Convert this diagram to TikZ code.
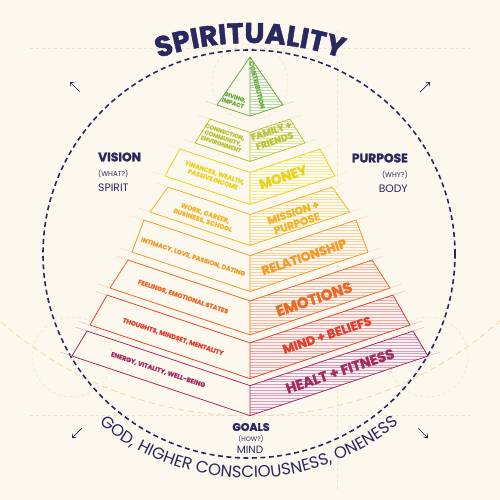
\documentclass[tikz,border=0pt]{standalone}
\usepackage{fontspec}
\setmainfont{Poppins}
\newfontfamily\heavyfont{Poppins}[BoldFeatures={FakeBold=1.6}]
\newfontfamily\labfont{Poppins}[BoldFeatures={FakeBold=0.8}]
\usetikzlibrary{calc,decorations.text,arrows.meta}
\definecolor{bg}{HTML}{FDF8EE}
\definecolor{navy}{HTML}{2A2860}
\definecolor{guide}{HTML}{EEE2C8}
\definecolor{warm}{HTML}{F2D49C}
\definecolor{cgreen}{HTML}{6FAD45}
\definecolor{cfam}{HTML}{B9C43A}
\definecolor{cmoney}{HTML}{EAD21E}
\definecolor{cmission}{HTML}{F0B52B}
\definecolor{crel}{HTML}{F29A2B}
\definecolor{cemo}{HTML}{EB6827}
\definecolor{cmind}{HTML}{E2402F}
\definecolor{chealth}{HTML}{A32C5E}
\newcommand\pyrband[5]{%
  \pgfmathsetmacro\pbct{#3+0.335*#2}%
  \pgfmathsetmacro\pbcb{#5+0.335*#4}%
  \coordinate (LT) at ({250-#2},-#3);
  \coordinate (RT) at ({250+#2},-#3);
  \coordinate (CT) at (250,-\pbct);
  \coordinate (LB) at ({250-#4},-#5);
  \coordinate (RB) at ({250+#4},-#5);
  \coordinate (CB) at (250,-\pbcb);
  \fill[#1!7] (CT)--(RT)--(RB)--(CB)--cycle;
  \begin{scope}
    \clip (CT)--(RT)--(RB)--(CB)--cycle;
    \foreach \hy in {40,42.8,...,430} \draw[#1!45, line width=0.4pt] (245,-\hy)--(440,-\hy);
  \end{scope}
  \draw[#1, line width=0.8pt, line join=round] (LT)--(CT)--(RT)--(RB)--(CB)--(LB)--cycle (CT)--(CB);
  \draw[#1!35, line width=0.6pt] (LB)--($(LB)!-12pt!(CB)$) (RB)--($(RB)!-12pt!(CB)$);
  \ifdim #2pt>0pt \draw[#1!35, line width=0.6pt] (LT)--($(LT)!-12pt!(CT)$) (RT)--($(RT)!-12pt!(CT)$);\fi
}
\tikzset{
  guideline/.style={draw=guide, line width=0.5pt, dash pattern=on 3pt off 3pt},
  warmline/.style={draw=warm, line width=0.7pt, dash pattern=on 6pt off 4pt},
  lab/.style={inner sep=0pt, align=center, rotate=-18.5},
  biglab/.style={inner sep=0pt, align=center, rotate=18.5},
  side/.style={inner sep=0pt, text=navy},
  arr/.style={navy, line width=0.7pt, -{Straight Barb[length=3pt,width=5pt]}}
}
\begin{document}
\begin{tikzpicture}[x=1pt,y=1pt]
\fill[bg] (0,0) rectangle (500,-500);
\useasboundingbox (0,0) rectangle (500,-500);
% faint guides
\draw[guideline] (30,-48) -- (470,-48);
\draw[guideline] (30,-415) -- (470,-415);
\draw[guideline] (337,-30) -- (337,-490);
\draw[guideline] (250,-82) circle (38);
\draw[guideline] (72,-357) circle (40);
\draw[guideline] (428,-357) circle (40);
\draw[warmline] (250,-40) circle (376);
% navy dashed circle
\draw[navy, line width=1.6pt, dash pattern=on 5pt off 3.5pt] (249,-254) ellipse [x radius=206, y radius=204];
% arrows
\coordinate (a1s) at (80,-92); \coordinate (a1e) at (70,-82);
\coordinate (a2s) at (420,-92); \coordinate (a2e) at (430,-82);
\coordinate (a3s) at (82,-428); \coordinate (a3e) at (72,-438);
\coordinate (a4s) at (418,-428); \coordinate (a4e) at (428,-438);
\draw[arr] (a1s) -- (a1e);
\draw[arr] (a2s) -- (a2e);
\draw[arr] (a3s) -- (a3e);
\draw[arr] (a4s) -- (a4e);
% pyramid
\pyrband{cgreen}{0}{57}{33}{105}
\pyrband{cfam}{40}{119}{55}{143}
\pyrband{cmoney}{70}{149}{85}{176}
\pyrband{cmission}{82}{187}{100}{212}
\pyrband{crel}{106}{220}{118}{252}
\pyrband{cemo}{122}{260}{140}{288}
\pyrband{cmind}{143}{295}{160}{325}
\pyrband{chealth}{163}{331}{178}{356}
% left-face labels
\node[lab, text=cgreen, font=\labfont\bfseries\fontsize{5.8}{6.3}\selectfont] (l1) at (234,-100) {GIVING,\\IMPACT};
\node[lab, text=cfam, font=\labfont\bfseries\fontsize{5.8}{6.3}\selectfont] (l2) at (223,-138) {CONNECTION,\\COMMUNITY,\\ENVIRONMENT};
\node[lab, text=cmoney, font=\labfont\bfseries\fontsize{6.2}{7}\selectfont] (l3) at (214,-176) {FINANCES, WEALTH,\\PASSIVE INCOME};
\node[lab, text=cmission, font=\labfont\bfseries\fontsize{6.5}{7.5}\selectfont] (l4) at (204,-217) {WORK, CAREER,\\BUSINESS, SCHOOL};
\node[lab, text=crel, font=\labfont\bfseries\fontsize{6.3}{7}\selectfont] (l5) at (193,-257) {INTIMACY, LOVE, PASSION, DATING};
\node[lab, text=cemo, font=\labfont\bfseries\fontsize{6.4}{7}\selectfont] (l6) at (183,-297) {FEELINGS, EMOTIONAL STATES};
\node[lab, text=cmind, font=\labfont\bfseries\fontsize{6.4}{7}\selectfont] (l7) at (173,-337) {THOUGHTS, MINDSET, MENTALITY};
\node[lab, text=chealth, font=\labfont\bfseries\fontsize{6.4}{7}\selectfont] (l8) at (158,-370) {ENERGY, VITALITY, WELL-BEING};
% right-face labels
\node[inner sep=0pt, rotate=-76, text=cgreen, font=\labfont\bfseries\fontsize{6.4}{6.4}\selectfont] (r1) at (257,-85) {CONTRIBUTION};
\node[biglab, text=cfam, font=\heavyfont\bfseries\fontsize{9.4}{10.5}\selectfont] (r2) at (273,-136) {FAMILY +\\FRIENDS};
\node[biglab, text=cmoney, font=\heavyfont\bfseries\fontsize{13.5}{14}\selectfont] (r3) at (283,-177) {MONEY};
\node[biglab, text=cmission, font=\heavyfont\bfseries\fontsize{10.5}{11.5}\selectfont] (r4) at (295,-218) {MISSION +\\PURPOSE};
\node[biglab, text=crel, font=\heavyfont\bfseries\fontsize{12.5}{13}\selectfont] (r5) at (304,-257) {RELATIONSHIP};
\node[biglab, text=cemo, font=\heavyfont\bfseries\fontsize{15}{15}\selectfont] (r6) at (314,-299) {EMOTIONS};
\node[biglab, text=cmind, font=\heavyfont\bfseries\fontsize{12.5}{13}\selectfont] (r7) at (327,-335) {MIND + BELIEFS};
\node[biglab, text=chealth, font=\heavyfont\bfseries\fontsize{14}{14}\selectfont] (r8) at (340,-371) {HEALT + FITNESS};
% side labels
\node[side, anchor=west, font=\heavyfont\bfseries\fontsize{12.3}{13}\selectfont] (vis) at (98,-157) {VISION};
\node[side, anchor=west, font=\fontsize{7}{8}\selectfont] (vis2) at (98,-174) {(WHAT?)};
\node[side, anchor=west, font=\fontsize{10.8}{12}\selectfont] (vis3) at (98,-188) {SPIRIT};
\node[side, anchor=east, font=\heavyfont\bfseries\fontsize{12.3}{13}\selectfont] (pur) at (408,-158) {PURPOSE};
\node[side, anchor=east, font=\fontsize{7}{8}\selectfont] (pur2) at (408,-175) {(WHY?)};
\node[side, anchor=east, font=\fontsize{10.8}{12}\selectfont] (pur3) at (408,-189) {BODY};
\node[side, font=\heavyfont\bfseries\fontsize{11}{12}\selectfont] (goa) at (251,-427) {GOALS};
\node[side, font=\fontsize{6.5}{7}\selectfont] (goa2) at (251,-439) {(HOW?)};
\node[side, font=\fontsize{10.5}{12}\selectfont] (goa3) at (250,-450) {MIND};
% arched texts
\path[decorate, decoration={text along path, text align=center, text color=navy,
  text={|\heavyfont\bfseries\fontsize{28.5}{28.5}\selectfont|SPIRITUALITY}}]
  (250,-328) ++(120:285) arc (120:60:285);
\path[decorate, decoration={text along path, text align=center, text color=navy,
  text={|\fontsize{16.5}{16.5}\selectfont|GOD, HIGHER CONSCIOUSNESS, ONENESS}}]
  (249,-244) ++(224:234) arc (224:316:234);
\end{tikzpicture}
\end{document}
